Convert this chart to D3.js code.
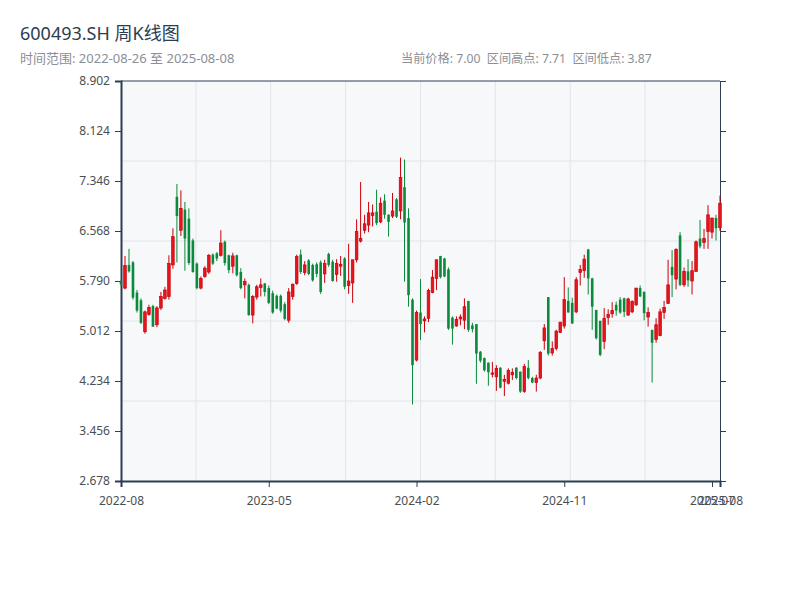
<!DOCTYPE html>
<html>
<head>
<meta charset="utf-8">
<script src="https://cdn.jsdelivr.net/npm/d3@7"></script>
<style>
body { margin: 0; background: #fff; }
text { font-family: "Noto Sans", "Noto Sans CJK SC", sans-serif; }
</style>
</head>
<body>
<div id="chart"></div>
<script>
// weekly candles, 2022-08-26 .. 2025-08-08 (holiday weeks have no bar)
var startDate = "2022-08-26";
var closedWeeks = ["2022-10-07", "2023-01-27", "2023-10-06", "2024-02-16"];

var open = [5.78,5.68,6.04,6.08,5.61,5.49,5.00,5.27,5.40,5.11,5.37,5.52,5.55,6.04,7.10,6.58,6.90,6.76,6.42,6.06,
  5.68,5.86,5.93,6.20,6.22,6.19,6.40,6.19,6.02,6.19,5.93,5.73,5.73,5.26,5.54,5.69,5.75,5.68,5.60,5.56,
  5.56,5.43,5.18,5.55,5.75,6.20,5.92,6.11,6.04,6.05,6.08,5.90,6.21,6.09,5.89,6.02,6.14,5.72,5.76,6.12,
  6.41,6.58,6.66,6.81,6.87,6.71,7.04,6.82,6.80,7.06,6.88,7.25,6.77,5.50,4.56,5.30,5.17,5.21,5.61,5.83,
  6.18,6.14,5.97,5.22,5.09,5.20,5.18,5.48,5.10,5.12,4.69,4.59,4.52,4.34,4.30,4.44,4.23,4.20,4.33,4.44,
  4.38,4.07,4.44,4.28,4.21,4.28,4.86,5.54,4.67,4.74,4.99,5.09,5.48,5.45,5.31,5.92,5.95,6.28,5.83,5.34,
  5.17,4.85,5.22,5.28,5.42,5.50,5.52,5.26,5.31,5.42,5.68,5.62,5.23,5.03,4.88,4.94,5.30,5.44,6.01,5.82,
  6.50,5.73,5.94,5.79,5.94,6.45,6.39,6.56,6.55,6.77,6.62];
var high = [5.80,6.18,6.29,6.10,5.65,5.52,5.33,5.42,5.42,5.40,5.62,5.70,6.19,6.61,7.30,7.20,7.02,6.92,6.45,6.08,
  5.86,6.02,6.21,6.22,6.24,6.58,6.42,6.20,6.23,6.20,5.99,5.83,5.75,5.57,5.73,5.83,5.76,5.72,5.64,5.58,
  5.58,5.46,5.68,5.75,6.20,6.28,6.10,6.13,6.06,6.08,6.11,6.12,6.23,6.12,6.13,6.18,6.16,6.37,6.12,6.75,
  7.33,6.82,7.02,6.98,7.21,7.09,7.14,6.83,7.16,7.08,7.71,7.68,6.92,5.52,5.33,5.82,5.24,5.67,5.96,6.12,
  6.18,6.15,6.00,5.24,5.24,5.27,5.52,5.48,5.14,5.12,4.70,4.60,4.52,4.53,4.48,4.45,4.33,4.43,4.43,4.45,
  4.38,4.50,4.56,4.30,4.33,4.70,5.12,5.54,4.85,5.03,5.15,5.85,5.69,5.53,5.85,6.04,6.20,6.29,5.84,5.34,
  5.17,5.37,5.35,5.46,5.47,5.54,5.53,5.53,5.49,5.68,5.72,5.63,5.38,5.03,5.21,5.36,5.48,6.12,6.27,6.30,
  6.55,6.00,6.13,6.10,6.42,6.74,6.60,6.97,6.77,6.82,7.12];
var low = [5.72,5.66,5.92,5.50,5.30,5.12,4.97,5.25,5.08,5.07,5.34,5.50,5.50,5.98,6.08,6.49,5.95,6.04,5.92,5.66,
  5.66,5.84,5.90,6.04,6.10,6.17,6.03,5.91,5.91,5.86,5.66,5.52,5.25,5.13,5.50,5.55,5.55,5.43,5.28,5.35,
  5.30,5.18,5.14,5.50,5.73,5.90,5.88,5.88,5.78,5.85,5.59,5.76,6.01,5.78,5.78,5.87,5.66,5.59,5.45,6.08,
  6.39,6.53,6.55,6.64,6.66,6.69,6.76,6.48,6.77,6.77,6.75,5.78,5.39,3.87,4.54,4.87,4.99,5.15,5.60,5.65,
  5.83,5.85,5.03,4.80,5.08,5.10,5.04,5.00,4.99,4.19,4.52,4.38,4.16,4.29,4.08,4.12,4.00,4.18,4.25,4.26,
  4.05,4.05,4.26,4.20,4.07,4.26,4.72,4.63,4.63,4.71,4.98,5.05,5.30,5.12,5.29,5.72,5.84,5.58,5.03,4.88,
  4.62,4.73,5.11,5.22,5.25,5.28,5.23,5.25,5.29,5.40,5.54,5.18,5.08,4.21,4.83,4.93,5.20,5.44,5.54,5.66,
  5.71,5.70,5.70,5.58,5.93,6.30,6.29,6.29,6.45,6.42,6.57];
var close = [5.74,6.03,5.94,5.53,5.33,5.14,5.31,5.38,5.08,5.37,5.55,5.65,6.06,6.48,6.80,6.92,6.45,6.07,5.93,5.68,
  5.83,5.99,6.19,6.06,6.14,6.38,6.07,5.96,6.18,5.88,5.68,5.78,5.26,5.55,5.70,5.73,5.62,5.45,5.30,5.36,
  5.33,5.20,5.62,5.74,6.17,5.93,6.04,5.90,5.80,5.90,5.62,6.06,6.04,5.79,6.06,6.05,5.70,5.79,6.12,6.56,
  6.45,6.68,6.85,6.85,6.69,7.00,6.82,6.71,6.88,6.79,7.40,6.70,5.57,4.48,5.30,5.12,5.20,5.64,5.85,6.12,
  5.85,5.86,5.05,5.05,5.19,5.23,5.39,5.03,5.04,4.66,4.55,4.40,4.37,4.36,4.43,4.13,4.26,4.40,4.37,4.28,
  4.07,4.46,4.28,4.21,4.28,4.68,5.06,4.66,4.74,5.01,5.15,5.50,5.30,5.13,5.81,5.97,6.13,5.83,5.39,4.90,
  4.64,5.21,5.27,5.33,5.33,5.30,5.31,5.51,5.47,5.68,5.55,5.29,5.30,4.83,5.11,5.31,5.38,5.73,5.88,6.28,
  5.73,5.94,5.80,5.95,6.40,6.33,6.45,6.82,6.77,6.61,7.00];

var yTicks = [2.678, 3.456, 4.234, 5.012, 5.790, 6.568, 7.346, 8.124, 8.902];
var tickIdx = [0, 37, 74, 111, 148, 150];

var title = "600493.SH 周K线图";
var subtitle = "时间范围: 2022-08-26 至 2025-08-08";
var info = "当前价格: 7.00  区间高点: 7.71  区间低点: 3.87";

// build the week dates
var fmt = d3.timeFormat("%Y-%m-%d");
var dates = [];
var d = d3.timeParse("%Y-%m-%d")(startDate);
while (dates.length < close.length) {
  if (closedWeeks.indexOf(fmt(d)) < 0) dates.push(fmt(d));
  d = d3.timeDay.offset(d, 7);
}

var bars = dates.map(function(dt, i) {
  return {i: i, date: dt, o: open[i], h: high[i], l: low[i], c: close[i]};
});

var margin = {top: 81, right: 80, bottom: 119, left: 121};
var width = 800 - margin.left - margin.right;
var height = 600 - margin.top - margin.bottom;

var svg = d3.select("#chart").append("svg")
  .attr("width", 800)
  .attr("height", 600);

svg.append("text")
  .attr("x", 20).attr("y", 40)
  .attr("font-size", 18)
  .attr("fill", "#2c3e50")
  .text(title);

svg.append("text")
  .attr("x", 20).attr("y", 63)
  .attr("font-size", 13)
  .attr("fill", "#8a8f96")
  .text(subtitle);

svg.append("text")
  .attr("x", 401).attr("y", 63)
  .attr("font-size", 12.2)
  .attr("fill", "#8a8f96")
  .style("white-space", "pre")
  .text(info);

var g = svg.append("g")
  .attr("transform", "translate(" + margin.left + "," + margin.top + ")");

var x = d3.scalePoint()
  .domain(d3.range(bars.length))
  .range([0, width]);

var y = d3.scaleLinear()
  .domain([yTicks[0], yTicks[yTicks.length - 1]])
  .range([height, 0]);

// plot background + grid
g.append("rect")
  .attr("width", width)
  .attr("height", height)
  .attr("fill", "#f6f8fa");

g.selectAll(".hgrid")
  .data(d3.range(1, 5))
  .enter().append("line")
  .attr("x1", 0).attr("x2", width)
  .attr("y1", function(k) { return k * height / 5; })
  .attr("y2", function(k) { return k * height / 5; })
  .attr("stroke", "#e1e5ea")
  .attr("stroke-width", 1);

g.selectAll(".vgrid")
  .data(d3.range(1, 8))
  .enter().append("line")
  .attr("y1", 0).attr("y2", height)
  .attr("x1", function(k) { return k * width / 8; })
  .attr("x2", function(k) { return k * width / 8; })
  .attr("stroke", "#e1e5ea")
  .attr("stroke-width", 1);

// axes
var yAxis = g.append("g")
  .call(d3.axisLeft(y).tickValues(yTicks).tickFormat(d3.format(".3f")).tickSize(6).tickPadding(5));

var yAxisR = g.append("g")
  .attr("transform", "translate(" + width + ",0)")
  .call(d3.axisRight(y).tickValues(yTicks).tickFormat("").tickSize(6));

var xAxis = g.append("g")
  .attr("transform", "translate(0," + height + ")")
  .call(d3.axisBottom(x).tickValues(tickIdx)
    .tickFormat(function(i) { return dates[i].slice(0, 7); })
    .tickSize(6).tickPadding(9));

g.append("line")
  .attr("x1", 0).attr("x2", width)
  .attr("y1", 0).attr("y2", 0)
  .attr("stroke", "#2c3e50")
  .attr("stroke-width", 1);

[yAxis, yAxisR, xAxis].forEach(function(a) {
  a.selectAll("path.domain").attr("stroke", "#2c3e50");
  a.selectAll(".tick line").attr("stroke", "#2c3e50");
  a.selectAll("text").attr("fill", "#4a4f55").attr("font-size", 12)
    .attr("font-family", "\"Noto Sans\", sans-serif");
});
yAxis.select("path.domain").attr("stroke-width", 2);
xAxis.select("path.domain").attr("stroke-width", 2);

// candles
var up = "#c8000a", upFill = "#e8141c", down = "#0a8a3a";
var bw = 2.6;

var candle = g.selectAll(".candle")
  .data(bars)
  .enter().append("g")
  .attr("class", "candle");

candle.append("line")
  .attr("x1", function(b) { return x(b.i); })
  .attr("x2", function(b) { return x(b.i); })
  .attr("y1", function(b) { return y(b.h); })
  .attr("y2", function(b) { return y(b.l); })
  .attr("stroke", function(b) { return b.c >= b.o ? up : down; })
  .attr("stroke-width", 1);

candle.append("rect")
  .attr("x", function(b) { return x(b.i) - bw / 2; })
  .attr("width", bw)
  .attr("y", function(b) { return y(Math.max(b.o, b.c)); })
  .attr("height", function(b) { return Math.max(1, Math.abs(y(b.o) - y(b.c))); })
  .attr("fill", function(b) { return b.c >= b.o ? upFill : down; })
  .attr("stroke", function(b) { return b.c >= b.o ? up : "none"; })
  .attr("stroke-width", 0.7);
</script>
</body>
</html>
